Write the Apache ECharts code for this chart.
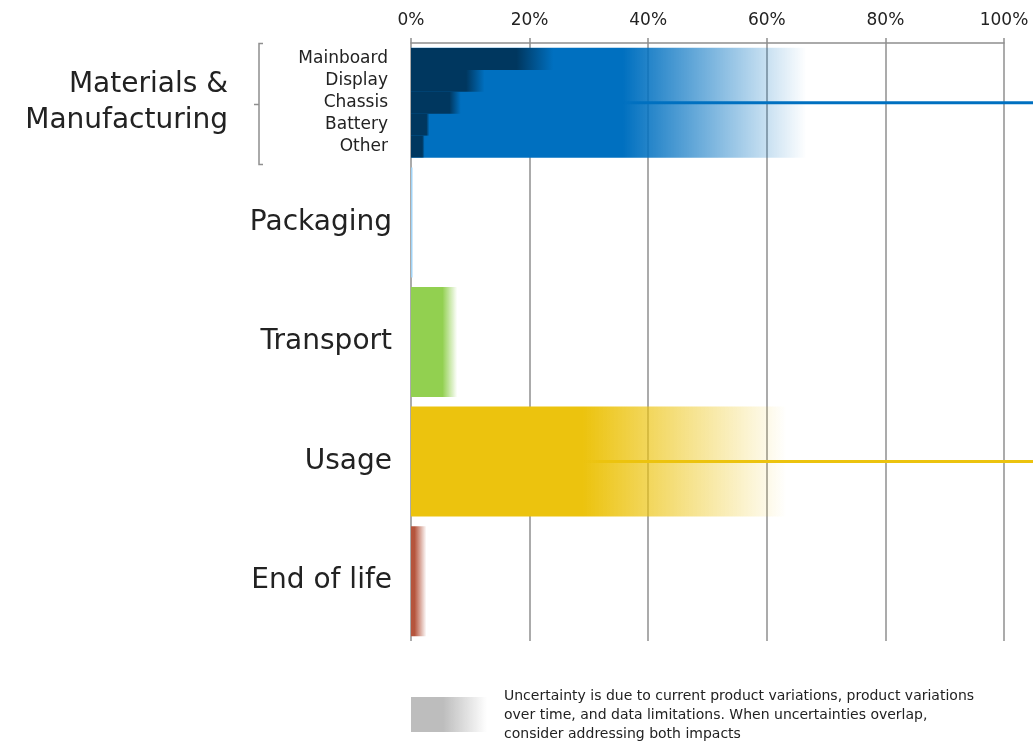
<!DOCTYPE html>
<html><head><meta charset="utf-8">
<script src="https://cdn.jsdelivr.net/npm/echarts@6/dist/echarts.min.js"></script>
<style>html,body{margin:0;padding:0;background:#fff}#c{width:1033px;height:742px}</style>
</head><body><div id="c"></div>
<script>
// ---- data (percent of total impact) ----
const categories = ['Materials & Manufacturing', 'Packaging', 'Transport', 'Usage', 'End of life'];
const lowValues  = [35.7, 0.25, 5.3, 29.0, 0.6];   // end of solid part
const highValues = [66.7, 0.25, 7.8, 63.3, 2.6];   // end of uncertainty fade
const components = ['Mainboard', 'Display', 'Chassis', 'Battery', 'Other'];
const compLow  = [17.8, 9.3, 6.5, 2.6, 1.9];
const compHigh = [24.0, 12.4, 8.4, 3.1, 2.3];
const lineRows = ['Chassis', 'Usage'];
const lineFrom = [35.0, 29.0];
const lineTo   = [110, 110];
const xTicks = [0, 20, 40, 60, 80, 100];
const legendText = ['Uncertainty is due to current product variations, product variations',
                    'over time, and data limitations. When uncertainties overlap,',
                    'consider addressing both impacts'];

// ---- styles ----
const FONT = 'DejaVu Sans';
const catColors = ['#0070C0', '#9FD2F5', '#92D050', '#ECC30E', '#B5553D'];
const navy = '#00375F';
const gridGray = '#8f8f8f';
const textColor = '#222222';

function rgba(hex, a) {
  const n = parseInt(hex.slice(1), 16);
  return 'rgba(' + ((n >> 16) & 255) + ',' + ((n >> 8) & 255) + ',' + (n & 255) + ',' + a + ')';
}
function fade(color, low, high) {
  const off = high > 0 ? Math.min(1, low / high) : 1;
  return new echarts.graphic.LinearGradient(0, 0, 1, 0, [
    { offset: 0, color: color },
    { offset: off, color: color },
    { offset: 1, color: rgba(color, off >= 1 ? 1 : 0) }
  ]);
}

const mainData = categories.map((c, i) => ({
  value: highValues[i],
  itemStyle: { color: fade(catColors[i], lowValues[i], highValues[i]) }
}));
const compData = components.map((c, i) => ({
  value: compHigh[i],
  itemStyle: { color: fade(navy, compLow[i], compHigh[i]) }
}));

const chart = echarts.init(document.getElementById('c'), null, { renderer: 'canvas' });

const lineSeries = lineRows.map((row, i) => {
  const inComp = components.indexOf(row) >= 0;
  const col = inComp ? catColors[0] : catColors[categories.indexOf(row)];
  return {
    type: 'line',
    xAxisIndex: inComp ? 1 : 0,
    yAxisIndex: inComp ? 1 : 0,
    data: [[lineFrom[i], row], [lineTo[i], row]],
    symbol: 'none',
    clip: false,
    silent: true,
    z: 10,
    lineStyle: {
      width: 3,
      color: new echarts.graphic.LinearGradient(0, 0, 1, 0, [
        { offset: 0, color: rgba(col, 0.2) },
        { offset: 0.04, color: col },
        { offset: 1, color: col }
      ])
    }
  };
});

chart.setOption({
  animation: false,
  grid: [
    { left: 411, right: 29, top: 43, height: 598 },
    { left: 411, right: 29, top: 48, height: 109.5 }
  ],
  xAxis: [
    {
      gridIndex: 0, type: 'value', position: 'top', min: 0, max: 100, interval: 20,
      axisLine: { show: true, lineStyle: { color: gridGray, width: 1.5 } },
      axisTick: { show: true, length: 5, lineStyle: { color: gridGray, width: 1.5 } },
      axisLabel: { show: true, margin: 14, fontFamily: FONT, fontSize: 17, color: textColor,
        formatter: v => xTicks.indexOf(v) >= 0 ? v + '%' : '' },
      splitLine: { show: true, lineStyle: { color: gridGray, width: 1.5 } }
    },
    {
      gridIndex: 1, type: 'value', min: 0, max: 100, show: false
    }
  ],
  yAxis: [
    {
      gridIndex: 0, type: 'category', inverse: true, data: categories,
      axisLine: { show: false }, axisTick: { show: false },
      axisLabel: {
        interval: 0, margin: 19, fontFamily: FONT, fontSize: 28, color: textColor,
        formatter: v => v === categories[0] ? '{m|Materials &}\n{m|Manufacturing}' : v,
        rich: { m: { fontFamily: FONT, fontSize: 28, color: textColor, lineHeight: 36, padding: [0, 164, 0, 0] } }
      }
    },
    {
      gridIndex: 1, type: 'category', inverse: true, data: components,
      axisLine: { show: false }, axisTick: { show: false },
      axisLabel: { interval: 0, margin: 23, fontFamily: FONT, fontSize: 17, color: textColor }
    }
  ],
  graphic: [
    { type: 'polyline', shape: { points: [[263, 43.5], [259, 43.5], [259, 164.5], [263, 164.5]] },
      style: { stroke: gridGray, lineWidth: 1.5, fill: null } },
    { type: 'line', shape: { x1: 259, y1: 104.5, x2: 254, y2: 104.5 },
      style: { stroke: gridGray, lineWidth: 1.5 } },
    { type: 'rect', shape: { x: 411, y: 697, width: 76, height: 35 },
      style: { fill: new echarts.graphic.LinearGradient(0, 0, 1, 0, [
        { offset: 0, color: '#BDBDBD' }, { offset: 0.42, color: '#BDBDBD' }, { offset: 1, color: 'rgba(189,189,189,0)' }]) } },
    { type: 'text', left: 504, top: 687,
      style: { text: legendText.join('\n'), fontFamily: FONT, fontSize: 14, lineHeight: 19, fill: textColor } }
  ],
  series: [
    { type: 'bar', xAxisIndex: 0, yAxisIndex: 0, data: mainData, barWidth: 110, silent: true, z: 2 },
    { type: 'bar', xAxisIndex: 1, yAxisIndex: 1, data: compData, barWidth: '100%', silent: true, z: 3 }
  ].concat(lineSeries)
});
</script>
</body></html>
